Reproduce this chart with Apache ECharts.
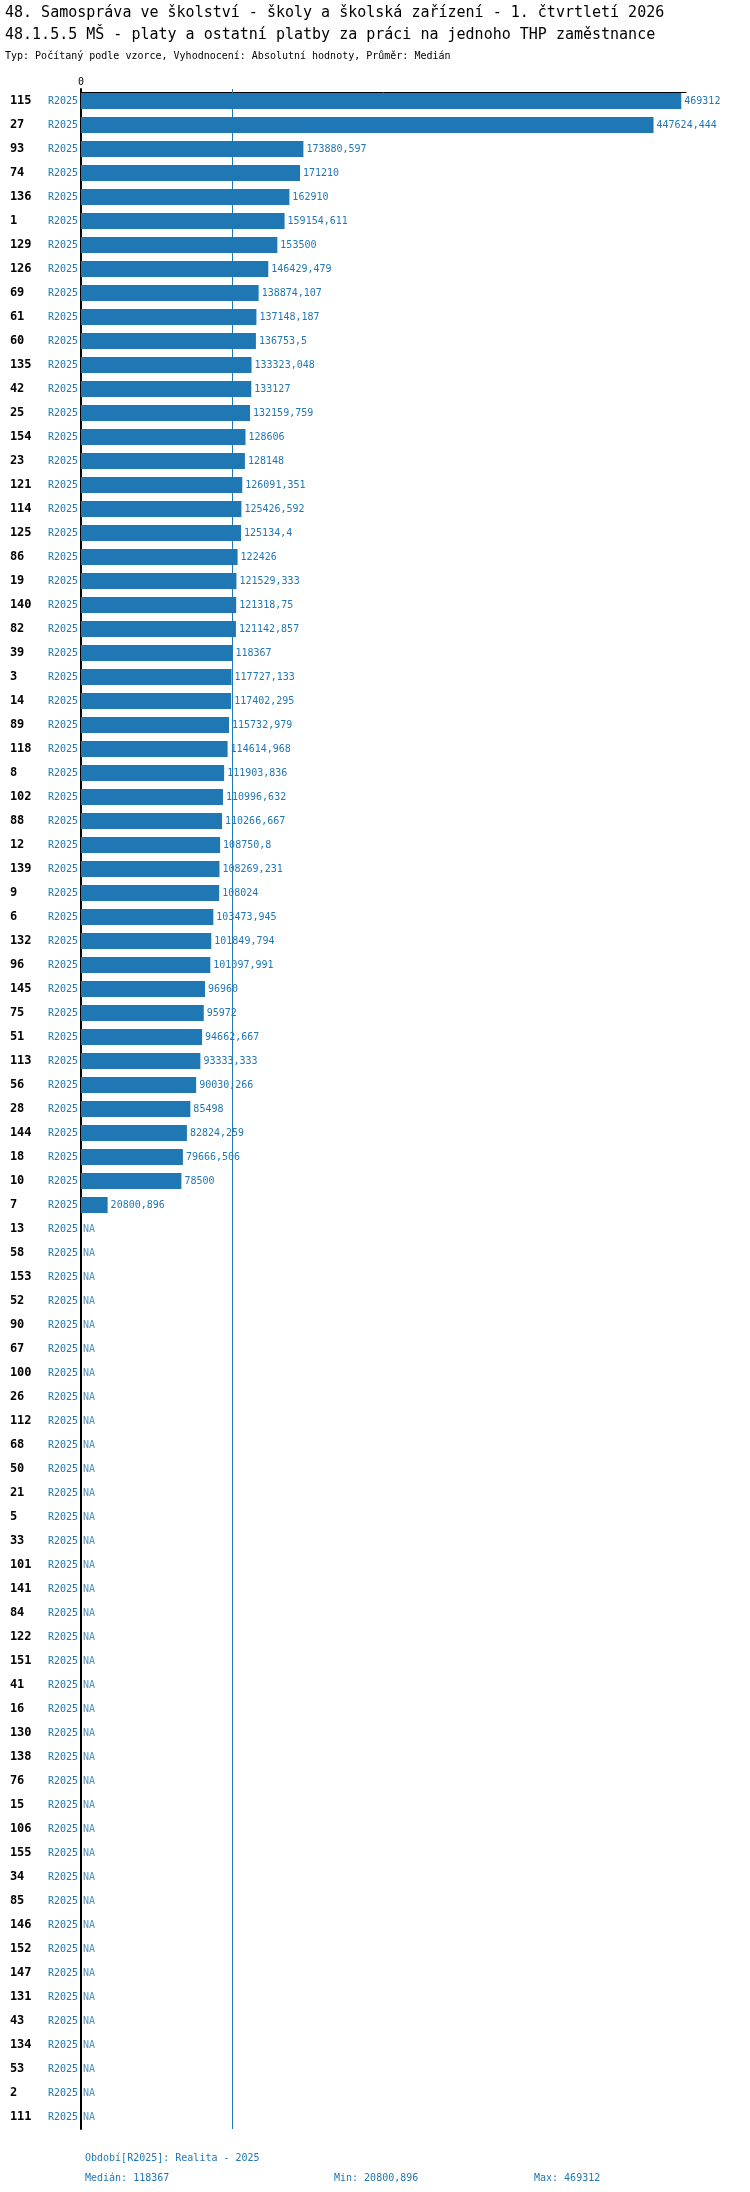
<!DOCTYPE html>
<html>
<head>
<meta charset="utf-8">
<title>48.1.5.5 MŠ - platy a ostatní platby</title>
<script src="https://cdn.jsdelivr.net/npm/echarts@6/dist/echarts.min.js"></script>
<style>
  html, body { margin: 0; padding: 0; background: #ffffff; }
  #chart { width: 750px; height: 2192px; }
</style>
</head>
<body>
<div id="chart"></div>
<script>
// kódy jednotek (pořadí shora dolů)
const units = [
    '115', '27', '93', '74', '136', '1', '129', '126', '69', '61', '60', '135',
    '42', '25', '154', '23', '121', '114', '125', '86', '19', '140', '82', '39',
    '3', '14', '89', '118', '8', '102', '88', '12', '139', '9', '6', '132', '96',
    '145', '75', '51', '113', '56', '28', '144', '18', '10', '7',
    '13', '58', '153', '52', '90', '67', '100', '26', '112', '68', '50', '21',
    '5', '33', '101', '141', '84', '122', '151', '41', '16', '130', '138', '76',
    '15', '106', '155', '34', '85', '146', '152', '147', '131', '43', '134', '53',
    '2', '111'
];

// hodnoty R2025, null = NA
const valuesR2025 = [
    469312, 447624.444, 173880.597, 171210, 162910, 159154.611, 153500, 146429.479,
    138874.107, 137148.187, 136753.5, 133323.048, 133127, 132159.759, 128606, 128148,
    126091.351, 125426.592, 125134.4, 122426, 121529.333, 121318.75, 121142.857, 118367,
    117727.133, 117402.295, 115732.979, 114614.968, 111903.836, 110996.632, 110266.667,
    108750.8, 108269.231, 108024, 103473.945, 101849.794, 101097.991,
    96960, 95972, 94662.667, 93333.333, 90030.266, 85498, 82824.259, 79666.506, 78500,
    20800.896,
    null, null, null, null, null, null, null, null, null, null, null, null,
    null, null, null, null, null, null, null, null, null, null, null, null,
    null, null, null, null, null, null, null, null, null, null, null, null,
    null, null
];

const periodLabel = 'R2025';
const xTickLabels = ['0'];

const BLUE = '#1f77b4';
const FONT = '"DejaVu Sans Mono", "Liberation Mono", monospace';

function fmt(v) {
    return String(v).replace('.', ',');
}

// statistiky do patičky
const known = valuesR2025.filter(v => v !== null).slice().sort((a, b) => a - b);
const median = known[Math.floor(known.length / 2)];
const minVal = known[0];
const maxVal = known[known.length - 1];

const chart = echarts.init(document.getElementById('chart'), null, { renderer: 'canvas' });

// body pro popisky NA (na nule)
const naData = [];
valuesR2025.forEach((v, i) => {
    if (v === null) {
        naData.push([0, i]);
    }
});

const option = {
    backgroundColor: '#ffffff',
    animation: false,
    textStyle: { fontFamily: FONT },
    title: [
        {
            text: '48. Samospráva ve školství - školy a školská zařízení - 1. čtvrtletí 2026',
            left: 0, top: 0,
            textStyle: { fontFamily: FONT, fontSize: 15, fontWeight: 'normal', color: '#000', lineHeight: 17 }
        },
        {
            text: '48.1.5.5 MŠ - platy a ostatní platby za práci na jednoho THP zaměstnance',
            left: 0, top: 22,
            textStyle: { fontFamily: FONT, fontSize: 15, fontWeight: 'normal', color: '#000', lineHeight: 17 }
        },
        {
            text: 'Typ: Počítaný podle vzorce, Vyhodnocení: Absolutní hodnoty, Průměr: Medián',
            left: 0, top: 45,
            textStyle: { fontFamily: FONT, fontSize: 10, fontWeight: 'normal', color: '#000', lineHeight: 13 }
        },
        {
            text: 'Období[' + periodLabel + ']: Realita - 2025',
            left: 80, top: 2147,
            textStyle: { fontFamily: FONT, fontSize: 10, fontWeight: 'normal', color: BLUE, lineHeight: 13 }
        },
        {
            text: 'Medián: ' + fmt(median),
            left: 80, top: 2167,
            textStyle: { fontFamily: FONT, fontSize: 10, fontWeight: 'normal', color: BLUE, lineHeight: 13 }
        },
        {
            text: 'Min: ' + fmt(minVal),
            left: 329, top: 2167,
            textStyle: { fontFamily: FONT, fontSize: 10, fontWeight: 'normal', color: BLUE, lineHeight: 13 }
        },
        {
            text: 'Max: ' + fmt(maxVal),
            left: 529, top: 2167,
            textStyle: { fontFamily: FONT, fontSize: 10, fontWeight: 'normal', color: BLUE, lineHeight: 13 }
        }
    ],
    grid: {
        left: 81,
        top: 89,
        width: 605,
        height: 2040,
        containLabel: false
    },
    xAxis: {
        type: 'value',
        position: 'top',
        offset: -3,
        min: 0,
        max: 473000,
        splitLine: { show: false },
        axisTick: { show: false },
        axisLine: { show: true, lineStyle: { color: '#000', width: 1 } },
        axisLabel: {
            show: true,
            margin: 5,
            fontFamily: FONT,
            fontSize: 10,
            color: '#000',
            showMaxLabel: false,
            formatter: v => (v === 0 ? xTickLabels[0] : '')
        }
    },
    yAxis: {
        type: 'category',
        inverse: true,
        data: units,
        axisTick: { show: false },
        axisLine: { show: true, lineStyle: { color: '#000', width: 2 } },
        axisLabel: {
            margin: 3,
            interval: 0,
            formatter: v => '{id|' + v + '}{per|' + periodLabel + '}',
            rich: {
                id: { fontFamily: FONT, fontSize: 12, fontWeight: 'bold', color: '#000', width: 38, align: 'left' },
                per: { fontFamily: FONT, fontSize: 10, color: BLUE }
            }
        }
    },
    series: [
        {
            name: periodLabel,
            type: 'bar',
            data: valuesR2025,
            barWidth: 16,
            itemStyle: { color: BLUE },
            label: {
                show: true,
                position: 'right',
                distance: 3,
                fontFamily: FONT,
                fontSize: 10,
                color: BLUE,
                formatter: p => fmt(p.value)
            },
            markLine: {
                silent: true,
                symbol: 'none',
                label: { show: false },
                lineStyle: { color: BLUE, width: 1, type: 'solid' },
                data: [{ xAxis: median }]
            }
        },
        {
            name: 'NA',
            type: 'scatter',
            data: naData,
            symbol: 'rect',
            symbolSize: 2,
            itemStyle: { color: 'rgba(255,255,255,0)' },
            label: {
                show: true,
                position: 'right',
                distance: 1,
                fontFamily: FONT,
                fontSize: 10,
                color: BLUE,
                formatter: () => 'NA'
            }
        }
    ]
};

try {
    chart.setOption(option);
} catch (error) {
    console.error('Error setting chart option:', error);
}
</script>
</body>
</html>
